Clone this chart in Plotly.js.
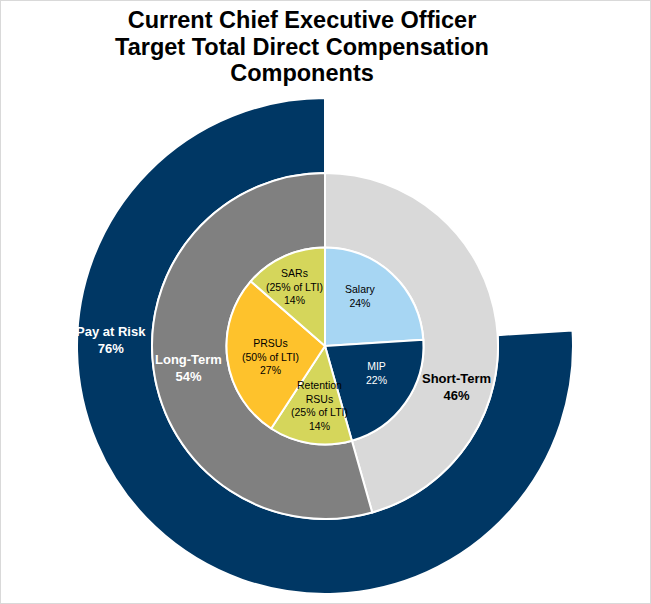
<!DOCTYPE html>
<html><head><meta charset="utf-8">
<script src="https://cdn.plot.ly/plotly-3.0.1.min.js"></script>
<style>html,body{margin:0;padding:0;background:#fff}#chart{width:651px;height:604px;box-sizing:border-box;border:1px solid #d9d9d9}</style>
</head><body><div id="chart"></div>
<script>
// ---- data (shares in %, labels show rounded values) ----
const titleLines = ["Current Chief Executive Officer", "Target Total Direct Compensation", "Components"];
const outerLabels = ["Fixed Pay", "Pay at Risk"];
const outerValues = [24, 76];
const middleLabels = ["Short-Term", "Long-Term"];
const middleValues = [45.6, 54.4];
const innerLabels = ["Salary", "MIP", "Retention<br>RSUs", "PRSUs", "SARs"];
const innerNotes = ["", "", "(25% of LTI)", "(50% of LTI)", "(25% of LTI)"];
const innerValues = [24, 21.6, 13.6, 27.2, 13.6];

// ---- styling / layout ----
const W = 649, H = 602;          // plot size inside 1px border
const CX = 324, CY = 345;        // pie centre (px, inside border)
const R_OUT = 248, R_MID = 173, R_IN = 98.5;
const FONT = "Arial, 'Liberation Sans', sans-serif";
const NAVY = "#003764";
function dom(r) {
  return {x: [(CX - r) / W, (CX + r) / W], y: [(H - CY - r) / H, (H - CY + r) / H]};
}
function px(x, y) { return {x: (x - 1) / W, y: 1 - (y - 1) / H}; }
function pct(v) { return Math.round(v) + "%"; }

const outerColors = ["rgba(0,0,0,0)", NAVY];
const middleColors = ["#d9d9d9", "#808080"];
const innerColors = ["#a7d6f3", NAVY, "#d5d65b", "#fec22c", "#d5d65b"];

const traces = [
  {type: "pie", labels: outerLabels, values: outerValues, sort: false, direction: "clockwise", rotation: 0,
   hole: R_MID / R_OUT, domain: dom(R_OUT), textinfo: "none", showlegend: false,
   marker: {colors: outerColors, line: {color: ["rgba(0,0,0,0)", "#ffffff"], width: [0, 2]}}},
  {type: "pie", labels: middleLabels, values: middleValues, sort: false, direction: "clockwise", rotation: 0,
   hole: R_IN / R_MID, domain: dom(R_MID), textinfo: "none", showlegend: false,
   marker: {colors: middleColors, line: {color: "#ffffff", width: 2}}},
  {type: "pie", labels: innerLabels, values: innerValues, sort: false, direction: "clockwise", rotation: 0,
   domain: dom(R_IN), textinfo: "none", showlegend: false,
   marker: {colors: innerColors, line: {color: "#ffffff", width: 2}}}
];

// label positions (page pixels) and colours
const outerPos = [null, [111, 340]];
const outerTextCol = [null, "#ffffff"];
const middlePos = [[456, 387], [188, 368]];
const middleTextCol = ["#000000", "#ffffff"];
const innerPos = [[360, 296], [376, 373], [319, 405], [270, 356], [294, 286]];
const innerTextCol = ["#000000", "#ffffff", "#000000", "#000000", "#000000"];

const annotations = [];
outerLabels.forEach((l, i) => {
  if (!outerPos[i]) return;
  const p = px(outerPos[i][0], outerPos[i][1]);
  annotations.push({x: p.x, y: p.y, xref: "paper", yref: "paper", showarrow: false, xanchor: "center", yanchor: "middle",
    text: l + "<br>" + pct(outerValues[i]), font: {family: FONT, size: 13, weight: 700, color: outerTextCol[i]}});
});
middleLabels.forEach((l, i) => {
  const p = px(middlePos[i][0], middlePos[i][1]);
  annotations.push({x: p.x, y: p.y, xref: "paper", yref: "paper", showarrow: false, xanchor: "center", yanchor: "middle",
    text: l + "<br>" + pct(middleValues[i]), font: {family: FONT, size: 13, weight: 700, color: middleTextCol[i]}});
});
innerLabels.forEach((l, i) => {
  const p = px(innerPos[i][0], innerPos[i][1]);
  const t = l + (innerNotes[i] ? "<br>" + innerNotes[i] : "") + "<br>" + pct(innerValues[i]);
  annotations.push({x: p.x, y: p.y, xref: "paper", yref: "paper", showarrow: false, xanchor: "center", yanchor: "middle",
    text: t, font: {family: FONT, size: 10.5, color: innerTextCol[i]}});
});

const titleText = titleLines.map(s => '<span style="font-size:23.5px">' + s + '</span>').join("<br>");
const layout = {
  width: W, height: H,
  margin: {l: 0, r: 0, t: 0, b: 0},
  paper_bgcolor: "#ffffff",
  showlegend: false,
  title: {text: titleText, x: (302 - 1) / W, xanchor: "center", xref: "container",
          y: 1 - 27 / H, yanchor: "top", yref: "container",
          font: {family: FONT, size: 20.5, weight: 700, color: "#000000"}},
  annotations: annotations
};
Plotly.newPlot("chart", traces, layout, {displayModeBar: false, staticPlot: true});
</script></body></html>
